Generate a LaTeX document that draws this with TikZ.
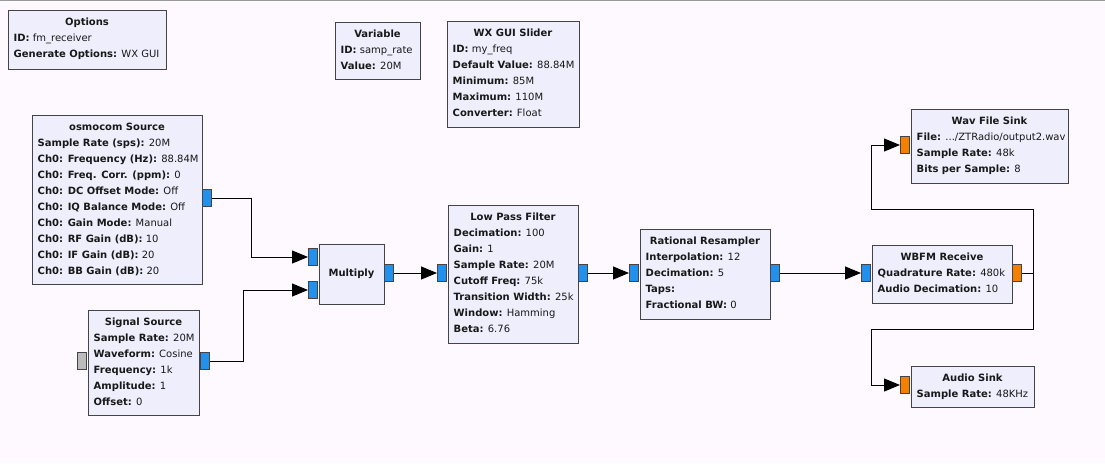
\documentclass[tikz,border=0pt]{standalone}
\usepackage{fontspec}
\setmainfont{DejaVu Sans}
\usetikzlibrary{arrows.meta,calc}
\definecolor{bgc}{RGB}{254,249,254}
\definecolor{boxfill}{RGB}{238,238,252}
\definecolor{boxline}{RGB}{68,68,72}
\definecolor{pblue}{RGB}{35,145,235}
\definecolor{porange}{RGB}{245,127,0}
\definecolor{pgray}{RGB}{188,188,188}
\newcommand\tdots{...}
\tikzset{
  box/.style={draw=boxline, fill=boxfill, line width=1pt, inner sep=0pt},
  txt/.style={inner sep=0pt, font=\fontsize{10}{16}\selectfont, text=black!90},
  port/.style={draw=boxline, line width=1pt, inner sep=0pt, minimum width=9pt, minimum height=17pt},
  conn/.style={draw=black, line width=1pt, -{Triangle[length=16pt,width=13pt]}},
  wire/.style={draw=black, line width=1pt}
}
\newcommand\blk[7]{%
  \node[box, minimum width=#4pt, minimum height=#5pt, anchor=north west] (#1) at (#2,#3) {};
  \node[txt, anchor=base] (#1-t) at ($(#1.north)+(0,16)$) {\bfseries #6};
  \foreach \l [count=\i] in {#7} {
    \node[txt, anchor=base west] (#1-\i) at ($(#1.north west)+(6,16+16*\i)$) {\l};
  }%
}
\begin{document}
\begin{tikzpicture}[x=1pt,y=-1pt]
\fill[bgc] (0,0) rectangle (1105,463);
\useasboundingbox (0,0) rectangle (1105,463);
\draw[gray!80, line width=1.2pt] (0,0.6) -- (1105,0.6);

\blk{opt}{7.5}{9.5}{158}{59}{Options}{{\textbf{ID:} fm\_receiver},{\textbf{Generate Options:} WX GUI}}
\blk{var}{334.5}{21.5}{85}{57}{Variable}{{\textbf{ID:} samp\_rate},{\textbf{Value:} 20M}}
\blk{sld}{446.5}{20.5}{132}{106}{WX GUI Slider}{{\textbf{ID:} my\_freq},{\textbf{Default Value:} 88.84M},{\textbf{Minimum:} 85M},{\textbf{Maximum:} 110M},{\textbf{Converter:} Float}}
\blk{osmo}{31.5}{114.5}{170}{169}{osmocom Source}{{\textbf{Sample Rate (sps):} 20M},{\textbf{Ch0: Frequency (Hz):} 88.84M},{\textbf{Ch0: Freq. Corr. (ppm):} 0},{\textbf{Ch0: DC Offset Mode:} Off},{\textbf{Ch0: IQ Balance Mode:} Off},{\textbf{Ch0: Gain Mode:} Manual},{\textbf{Ch0: RF Gain (dB):} 10},{\textbf{Ch0: IF Gain (dB):} 20},{\textbf{Ch0: BB Gain (dB):} 20}}
\blk{sig}{87.5}{309.5}{111}{105}{Signal Source}{{\textbf{Sample Rate:} 20M},{\textbf{Waveform:} Cosine},{\textbf{Frequency:} 1k},{\textbf{Amplitude:} 1},{\textbf{Offset:} 0}}
\blk{lpf}{447.5}{204.5}{130}{138}{Low Pass Filter}{{\textbf{Decimation:} 100},{\textbf{Gain:} 1},{\textbf{Sample Rate:} 20M},{\textbf{Cutoff Freq:} 75k},{\textbf{Transition Width:} 25k},{\textbf{Window:} Hamming},{\textbf{Beta:} 6.76}}
\blk{rr}{639.5}{228.5}{130}{90}{Rational Resampler}{{\textbf{Interpolation:} 12},{\textbf{Decimation:} 5},{\textbf{Taps:}},{\textbf{Fractional BW:} 0}}
\blk{wbfm}{871.5}{244.5}{140}{58}{WBFM Receive}{{\textbf{Quadrature Rate:} 480k},{\textbf{Audio Decimation:} 10}}
\blk{wav}{910.5}{108.5}{157}{74}{Wav File Sink}{{\textbf{File:} \tdots/ZTRadio/output2.wav},{\textbf{Sample Rate:} 48k},{\textbf{Bits per Sample:} 8}}
\blk{aud}{910.5}{365.5}{123}{41}{Audio Sink}{{\textbf{Sample Rate:} 48KHz}}

% Multiply block (title only)
\node[box, minimum width=65pt, minimum height=60pt, anchor=north west] (mul) at (318.5,243.5) {};
\node[txt, font=\fontsize{10}{16}\selectfont\bfseries] (mul-t) at (mul.center) {Multiply};

% ports
\node[port, fill=pblue] (osmo-out) at (207,198) {};
\node[port, fill=pblue] (mul-in1) at (313,257) {};
\node[port, fill=pblue] (mul-in2) at (313,290) {};
\node[port, fill=pblue] (mul-out) at (388.5,273) {};
\node[port, fill=pgray] (sig-in) at (81.5,361) {};
\node[port, fill=pblue] (sig-out) at (204.5,361) {};
\node[port, fill=pblue] (lpf-in) at (442,273) {};
\node[port, fill=pblue] (lpf-out) at (583,273) {};
\node[port, fill=pblue] (rr-in) at (634,273) {};
\node[port, fill=pblue] (rr-out) at (775,273) {};
\node[port, fill=pblue] (wbfm-in) at (866,273) {};
\node[port, fill=porange] (wbfm-out) at (1017,273) {};
\node[port, fill=porange] (wav-in) at (905,145) {};
\node[port, fill=porange] (aud-in) at (905,385) {};

% connections
\draw[conn] (osmo-out.east) -- ++(39,0) |- (mul-in1.west);
\draw[conn] (sig-out.east) -- ++(34,0) |- (mul-in2.west);
\draw[conn] (mul-out.east) -- (lpf-in.west);
\draw[conn] (lpf-out.east) -- (rr-in.west);
\draw[conn] (rr-out.east) -- (wbfm-in.west);
\coordinate (jn) at (1033,273);
\coordinate (jtop) at (1033,209);
\coordinate (jbot) at (1033,329);
\draw[wire] (wbfm-out.east) -- (jn);
\draw[conn] (jn) -- (jtop) -- ++(-162,0) |- (wav-in.west);
\draw[conn] (jn) -- (jbot) -- ++(-162,0) |- (aud-in.west);
\end{tikzpicture}
\end{document}
